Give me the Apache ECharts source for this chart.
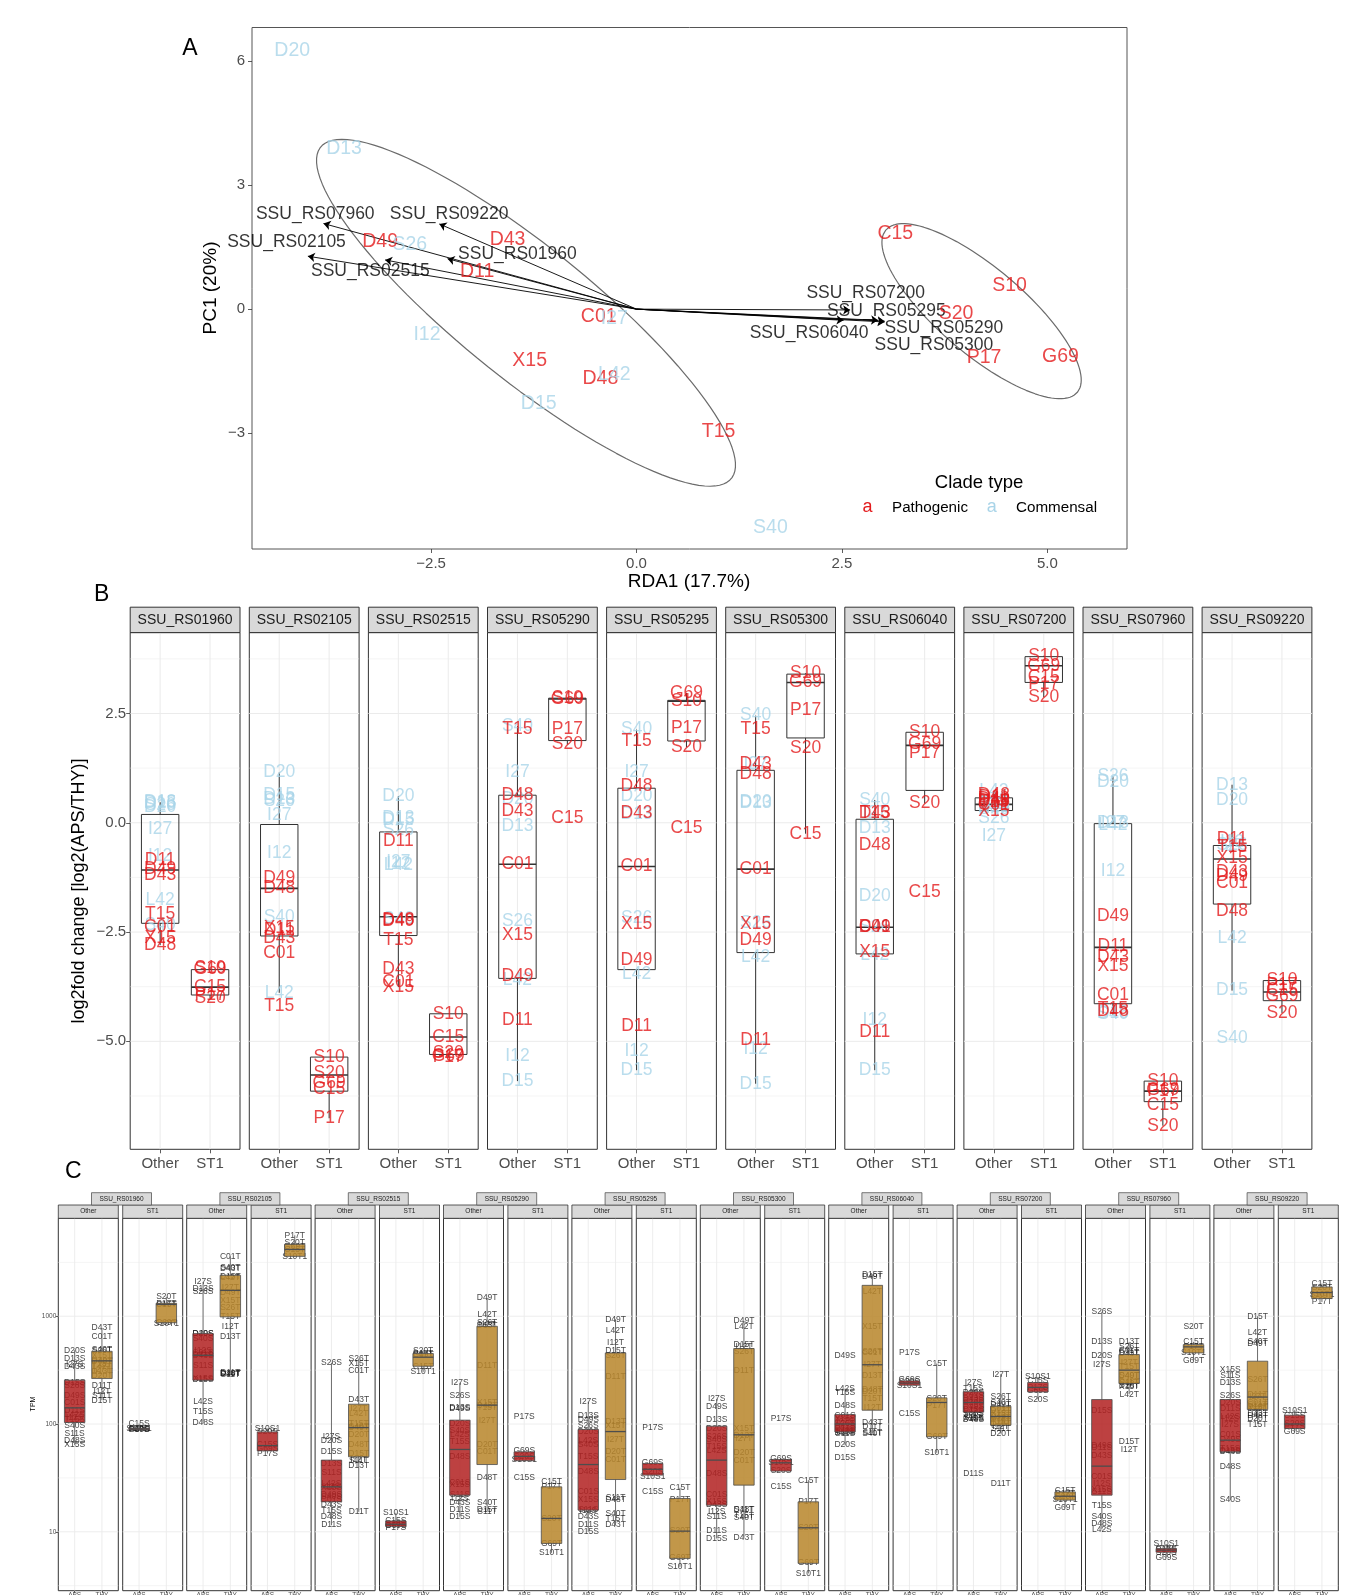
<!DOCTYPE html>
<html>
<head>
<meta charset="utf-8">
<script src="https://cdn.jsdelivr.net/npm/echarts@6/dist/echarts.min.js"></script>
<style>
  html, body { margin: 0; padding: 0; background: #ffffff; }
  #chart { width: 1367px; height: 1595px; }
</style>
</head>
<body>
<div id="chart"></div>
<script>
// ---------------- Panel A: RDA biplot ----------------
const rdaSamples = ['D20','D13','D49','S26','D43','D11','C01','I27','I12','X15','D48','L42','D15','T15','S40','C15','S10','S20','P17','G69'];
const rdaX = [-4.19,-3.56,-3.12,-2.76,-1.57,-1.94,-0.46,-0.27,-2.55,-1.30,-0.44,-0.27,-1.19,1.00,1.63,3.15,4.54,3.89,4.23,5.16];
const rdaY = [6.24,3.87,1.63,1.57,1.68,0.91,-0.19,-0.22,-0.62,-1.24,-1.68,-1.59,-2.29,-2.96,-5.28,1.83,0.57,-0.11,-1.17,-1.15];
const pathogenicSamples = ['D49','D43','D11','C01','X15','D48','T15','C15','S10','S20','P17','G69'];

const loadingGenes = ['SSU_RS07960','SSU_RS09220','SSU_RS02105','SSU_RS01960','SSU_RS02515','SSU_RS07200','SSU_RS05295','SSU_RS05290','SSU_RS05300','SSU_RS06040'];
const loadingX = [-3.81,-2.40,-4.00,-2.30,-3.06,2.60,2.94,3.02,3.02,2.52];
const loadingY = [2.07,2.06,1.28,1.22,1.19,-0.02,-0.27,-0.29,-0.31,-0.27];
const loadingLabelX = [-3.91,-2.28,-4.26,-1.45,-3.24,2.79,3.04,3.74,3.62,2.10];
const loadingLabelY = [2.29,2.29,1.63,1.32,0.91,0.38,-0.04,-0.47,-0.87,-0.59];

// confidence ellipses: centre and the two semi-axis vectors (data units)
const ellipseCx = [-1.345, 4.20];
const ellipseCy = [-0.088, -0.05];
const ellipseUx = [2.404, 1.076];
const ellipseUy = [-4.141, -2.080];
const ellipseVx = [0.850, 0.560];
const ellipseVy = [0.666, 0.392];

const rdaXTicks = [-2.5, 0, 2.5, 5];
const rdaYTicks = [-3, 0, 3, 6];

// ---------------- Panel B: log2 fold change per gene ----------------
const genes = ['SSU_RS01960','SSU_RS02105','SSU_RS02515','SSU_RS05290','SSU_RS05295','SSU_RS05300','SSU_RS06040','SSU_RS07200','SSU_RS07960','SSU_RS09220'];
const groupLabels = ['Other', 'ST1'];
const otherSamples = ['D20','D13','D15','S26','I27','I12','L42','S40','D11','D49','D43','D48','C01','X15','T15'];
const st1Samples = ['S10','G69','C15','P17','S20'];
const lfcTicks = [-5, -2.5, 0, 2.5];
const lfcMinorLines = [-6.25, -3.75, -1.25, 1.25, 3.75];

const lfcOther = [
  [0.36, 0.47, 0.45, 0.40, -0.15, -0.76, -1.76, -2.35, -0.85, -1.07, -1.20, -2.80, -2.40, -2.65, -2.09],
  [1.15, 0.55, 0.62, 0.50, 0.18, -0.70, -3.89, -2.16, -2.45, -1.26, -2.65, -1.50, -2.98, -2.42, -4.19],
  [0.61, 0.10, 0.06, -0.17, -0.90, -0.95, -0.97, -2.20, -0.42, -2.24, -3.36, -2.22, -3.65, -3.76, -2.69],
  [0.55, -0.08, -5.91, -2.25, 1.16, -5.34, -3.61, 2.21, -4.52, -3.50, 0.27, 0.62, -0.95, -2.58, 2.13],
  [0.61, 0.19, -5.66, -2.18, 1.16, -5.22, -3.46, 2.13, -4.65, -3.14, 0.23, 0.84, -1.00, -2.32, 1.87],
  [0.46, 0.44, -5.97, -2.30, 1.33, -5.19, -3.08, 2.45, -4.98, -2.69, 1.33, 1.10, -1.06, -2.32, 2.15],
  [-1.67, -0.13, -5.66, -2.39, 0.22, -4.52, -3.04, 0.52, -4.79, -2.39, 0.21, -0.51, -2.38, -2.96, 0.21],
  [0.43, 0.45, 0.35, 0.10, -0.30, 0.42, 0.72, 0.32, 0.58, 0.55, 0.62, 0.50, 0.40, 0.27, 0.47],
  [0.93, -0.02, -4.35, 1.06, -0.02, -1.11, -0.05, -4.39, -2.83, -2.13, -3.08, -4.30, -3.95, -3.29, -4.27],
  [0.51, 0.87, -3.84, -0.51, -0.53, -0.45, -2.64, -4.92, -0.38, -1.22, -1.14, -2.03, -1.39, -0.80, -0.55]
];
const lfcST1 = [
  [-3.32, -3.36, -3.76, -3.94, -4.02],
  [-5.37, -5.95, -6.10, -6.76, -5.72],
  [-4.39, -5.33, -4.90, -5.36, -5.28],
  [2.85, 2.83, 0.10, 2.15, 1.79],
  [2.79, 2.97, -0.13, 2.17, 1.73],
  [3.42, 3.21, -0.25, 2.58, 1.71],
  [2.07, 1.79, -1.59, 1.60, 0.44],
  [3.82, 3.59, 3.34, 3.17, 2.87],
  [-5.91, -6.12, -6.46, -6.14, -6.93],
  [-3.59, -3.97, -3.84, -3.72, -4.35]
];
// box statistics: lower whisker, Q1, median, Q3, upper whisker
const lfcBoxOther = [
  [-2.80, -2.30, -1.08, 0.19, 0.47],
  [-3.89, -2.59, -1.50, -0.04, 1.15],
  [-3.76, -2.58, -2.15, -0.21, 0.61],
  [-5.91, -3.56, -0.95, 0.63, 2.21],
  [-5.66, -3.36, -1.00, 0.79, 2.13],
  [-5.97, -2.97, -1.06, 1.20, 2.45],
  [-5.66, -3.00, -2.39, 0.08, 0.52],
  [0.25, 0.28, 0.42, 0.57, 0.72],
  [-4.39, -4.14, -2.85, -0.02, 1.06],
  [-3.84, -1.86, -0.83, -0.52, 0.87]
];
const lfcBoxST1 = [
  [-4.02, -3.94, -3.76, -3.36, -3.32],
  [-6.76, -6.14, -5.77, -5.36, -5.36],
  [-5.36, -5.30, -4.90, -4.37, -4.37],
  [1.79, 1.88, 2.83, 2.85, 2.86],
  [1.73, 1.87, 2.78, 2.80, 2.97],
  [-0.25, 1.94, 3.21, 3.40, 3.42],
  [0.44, 0.74, 1.77, 2.07, 2.07],
  [2.87, 3.21, 3.59, 3.80, 3.82],
  [-6.93, -6.38, -6.14, -5.91, -5.91],
  [-4.35, -4.07, -3.87, -3.61, -3.59]
];

// ---------------- Panel C: TPM per gene, condition and clade (log10 TPM) ----------------
const conditionLabels = ['APS', 'THY'];
const tpmOtherSamples = ['D20','D13','D15','S26','I27','I12','L42','S40','S11','D11','D49','D43','D48','C01','X15','T15'];
const tpmSt1NamesS = ['S10S1','G69S','C15S','P17S','S20S'];
const tpmSt1NamesT = ['S10T1','G69T','C15T','P17T','S20T'];
const tpmTicks = [10, 100, 1000];
const tpmGridLog10 = [0.5, 1, 1.5, 2, 2.5, 3, 3.5];

const log10TpmOtherS = [
  [2.685, 2.604, 2.38, 2.36, 2.55, 2.06, 2.09, 1.989, 1.906, 2.122, 2.267, 2.536, 1.844, 2.20, 1.804, 2.045],
  [2.835, 3.26, 2.41, 3.23, 3.318, 2.685, 2.212, 2.79, 2.546, 2.64, 2.84, 2.635, 2.011, 2.66, 2.42, 2.113],
  [1.844, 1.634, 1.748, 2.567, 1.881, 1.42, 1.45, 1.325, 1.547, 1.062, 1.34, 1.25, 1.145, 1.30, 1.41, 1.20],
  [2.005, 2.15, 1.139, 2.267, 2.382, 1.309, 1.90, 1.937, 1.34, 1.201, 2.14, 1.269, 1.696, 1.454, 1.433, 1.835],
  [1.927, 2.082, 1.0, 1.989, 2.206, 1.20, 1.844, 1.804, 1.21, 1.062, 2.042, 1.145, 1.556, 1.371, 1.294, 1.696],
  [1.96, 2.036, 0.938, 1.881, 2.233, 1.185, 1.75, 1.856, 1.139, 1.009, 2.159, 1.25, 1.535, 1.34, 1.278, 1.794],
  [1.804, 1.92, 1.689, 2.0, 2.02, 1.93, 2.329, 1.94, 1.91, 1.96, 2.638, 1.98, 2.175, 2.08, 2.05, 2.289],
  [2.29, 2.22, 2.13, 2.20, 2.382, 2.08, 2.12, 2.10, 2.06, 1.535, 2.16, 2.24, 2.04, 2.26, 2.05, 2.33],
  [2.632, 2.762, 2.122, 3.04, 2.555, 1.442, 1.022, 1.139, 1.37, 1.78, 1.80, 1.711, 1.071, 1.51, 1.39, 1.247],
  [2.199, 2.382, 1.75, 2.267, 1.998, 2.05, 2.07, 1.294, 2.447, 2.138, 1.856, 1.74, 1.603, 1.90, 2.509, 1.77]
];
const log10TpmOtherT = [
  [2.45, 2.484, 2.221, 2.68, 2.50, 2.30, 2.53, 2.69, 2.267, 2.36, 2.59, 2.892, 2.58, 2.815, 2.63, 2.56],
  [2.47, 2.808, 3.37, 3.077, 3.266, 2.901, 3.36, 3.45, 2.46, 2.475, 3.216, 3.44, 2.465, 3.556, 3.148, 3.00],
  [1.90, 1.618, 1.726, 2.607, 2.144, 1.67, 2.097, 1.98, 1.66, 1.185, 1.967, 2.227, 1.813, 2.499, 2.561, 2.005],
  [1.813, 2.91, 1.207, 2.938, 2.029, 2.92, 3.019, 1.272, 1.19, 2.546, 3.17, 2.175, 1.501, 1.748, 2.196, 2.15],
  [1.742, 2.020, 2.685, 2.638, 1.856, 2.753, 2.870, 1.164, 1.32, 2.444, 2.972, 1.062, 1.30, 1.665, 1.989, 1.124],
  [1.736, 1.896, 2.74, 2.675, 1.865, 2.72, 2.901, 1.13, 1.21, 2.499, 2.957, 0.944, 1.207, 1.658, 1.958, 1.15],
  [2.30, 2.45, 3.39, 2.67, 2.55, 2.15, 3.226, 1.912, 1.92, 1.974, 3.37, 2.011, 2.32, 2.66, 2.901, 2.236],
  [1.912, 2.12, 2.0, 2.252, 2.462, 1.98, 2.06, 2.20, 1.958, 1.448, 2.18, 2.08, 2.04, 2.14, 2.10, 2.02],
  [2.36, 2.762, 1.835, 2.716, 2.567, 1.764, 2.277, 2.453, 2.385, 2.66, 2.45, 2.65, 2.39, 2.685, 2.35, 2.53],
  [2.05, 2.16, 3.0, 2.416, 2.25, 2.14, 2.845, 2.76, 2.18, 2.277, 2.75, 2.10, 2.082, 2.20, 2.15, 1.998]
];
const log10TpmSt1S = [
  [1.96, 1.95, 2.005, 1.945, 1.955],
  [1.958, 1.773, 1.804, 1.726, 1.927],
  [1.176, 1.06, 1.10, 1.04, 1.08],
  [1.67, 1.757, 1.501, 2.073, 1.70],
  [1.516, 1.64, 1.371, 1.964, 1.56],
  [1.64, 1.68, 1.417, 2.051, 1.563],
  [2.36, 2.41, 2.097, 2.66, 2.39],
  [2.437, 2.31, 2.40, 2.34, 2.23],
  [0.886, 0.762, 0.845, 0.83, 0.81],
  [2.128, 1.927, 2.082, 1.98, 2.0]
];
const log10TpmSt1T = [
  [2.93, 2.94, 3.11, 3.12, 3.18],
  [3.55, 3.649, 3.62, 3.751, 3.68],
  [2.484, 2.645, 2.536, 2.65, 2.685],
  [0.805, 0.892, 1.464, 1.417, 1.124],
  [0.675, 0.759, 1.408, 1.300, 1.006],
  [0.614, 0.713, 1.479, 1.278, 1.037],
  [1.733, 1.887, 2.561, 2.175, 2.236],
  [1.30, 1.226, 1.386, 1.355, 1.33],
  [2.66, 2.592, 2.762, 2.716, 2.901],
  [3.204, 3.19, 3.303, 3.133, 3.266]
];
const tpmBoxOtherS = [
  [1.804, 2.014, 2.15, 2.407, 2.685],
  [2.011, 2.407, 2.638, 2.839, 3.318],
  [1.062, 1.278, 1.417, 1.665, 2.567],
  [1.139, 1.34, 1.764, 2.036, 2.382],
  [1.0, 1.201, 1.624, 1.949, 2.206],
  [0.938, 1.247, 1.665, 1.98, 2.233],
  [1.804, 1.927, 2.0, 2.088, 2.329],
  [2.04, 2.11, 2.2, 2.30, 2.382],
  [1.022, 1.34, 1.609, 2.227, 3.04],
  [1.294, 1.742, 1.85, 2.227, 2.509]
];
const tpmBoxOtherT = [
  [2.221, 2.422, 2.586, 2.675, 2.892],
  [2.465, 2.994, 3.24, 3.38, 3.556],
  [1.185, 1.696, 1.967, 2.184, 2.607],
  [1.19, 1.624, 2.175, 2.907, 3.17],
  [1.062, 1.485, 1.93, 2.66, 2.972],
  [0.944, 1.433, 1.90, 2.70, 2.957],
  [1.912, 2.128, 2.55, 3.287, 3.39],
  [1.912, 1.989, 2.07, 2.165, 2.462],
  [2.277, 2.376, 2.5, 2.645, 2.762],
  [1.998, 2.134, 2.25, 2.583, 3.0]
];
const tpmBoxSt1S = [
  [1.945, 1.95, 1.955, 1.96, 2.005],
  [1.726, 1.751, 1.80, 1.927, 1.958],
  [1.04, 1.05, 1.07, 1.10, 1.176],
  [1.649, 1.66, 1.70, 1.742, 1.757],
  [1.516, 1.526, 1.58, 1.634, 1.64],
  [1.563, 1.563, 1.64, 1.671, 1.68],
  [2.36, 2.36, 2.38, 2.40, 2.41],
  [2.23, 2.298, 2.34, 2.385, 2.437],
  [0.762, 0.81, 0.83, 0.845, 0.886],
  [1.927, 1.958, 2.0, 2.082, 2.128]
];
const tpmBoxSt1T = [
  [2.93, 2.94, 3.11, 3.12, 3.18],
  [3.55, 3.556, 3.62, 3.668, 3.751],
  [2.484, 2.536, 2.62, 2.654, 2.685],
  [0.805, 0.892, 1.124, 1.417, 1.464],
  [0.675, 0.753, 1.006, 1.309, 1.408],
  [0.614, 0.707, 1.037, 1.278, 1.479],
  [1.733, 1.881, 2.2, 2.243, 2.561],
  [1.226, 1.294, 1.33, 1.37, 1.386],
  [2.592, 2.66, 2.716, 2.737, 2.762],
  [3.133, 3.164, 3.22, 3.272, 3.303]
];

// ---------------- styling helpers ----------------
const FONT = 'Liberation Sans, Arial, Helvetica, sans-serif';
const RED = '#E31A1C';
const BLUE = '#A9D4E8';
const GRID_COLOR = '#EBEBEB';
const cladeColor = s => pathogenicSamples.indexOf(s) >= 0 ? RED : BLUE;
const minusFmt = s => s.replace('-', '\u2212');

const grids = [], xAxes = [], yAxes = [], series = [], graphics = [];

function addGrid(left, top, width, height, xAxis, yAxis, border) {
  const idx = grids.length;
  grids.push({ left, top, width, height, show: true, borderColor: border || '#333333', borderWidth: 1,
    backgroundColor: 'rgba(0,0,0,0)', containLabel: false, outerBoundsMode: 'none' });
  xAxes.push(Object.assign({ gridIndex: idx, position: 'bottom' }, xAxis));
  yAxes.push(Object.assign({ gridIndex: idx, position: 'left' }, yAxis));
  return idx;
}

function axisCfg(type, min, max, ticks, fmt, show, fontSize, tickLen, margin) {
  const a = {
    type, min, max, silent: true,
    axisLine: { show: false, onZero: false },
    splitLine: { show: false },
    axisTick: { show: show, length: tickLen, lineStyle: { color: '#333333', width: 0.8 }, customValues: ticks },
    axisLabel: { show: show, customValues: ticks, formatter: fmt, color: '#4D4D4D', fontSize, fontFamily: FONT, margin }
  };
  if (type === 'log') a.logBase = 10;
  return a;
}

// background grid lines: item = [orientation (0 horizontal, 1 vertical), value, width, reference on the other axis]
function gridLineRenderer(params, api) {
  const cs = params.coordSys;
  const kind = api.value(0), v = api.value(1), w = api.value(2), ref = api.value(3);
  if (kind === 0) {
    const y = api.coord([ref, v])[1];
    return { type: 'line', shape: { x1: cs.x, y1: y, x2: cs.x + cs.width, y2: y }, style: { stroke: GRID_COLOR, lineWidth: w } };
  }
  const x = api.coord([v, ref])[0];
  return { type: 'line', shape: { x1: x, y1: cs.y, x2: x, y2: cs.y + cs.height }, style: { stroke: GRID_COLOR, lineWidth: w } };
}

// box plot drawn from [x, lower whisker, Q1, median, Q3, upper whisker]
function boxRenderer(fill, stroke, lw, medW, halfWidth) {
  return function (params, api) {
    const x = api.value(0);
    const v = [1, 2, 3, 4, 5].map(k => api.value(k));
    const p = k => api.coord([x, v[k]]);
    const tl = api.coord([x - halfWidth, v[3]]);
    const br = api.coord([x + halfWidth, v[1]]);
    const med = p(2);
    return { type: 'group', children: [
      { type: 'line', shape: { x1: p(4)[0], y1: p(4)[1], x2: p(3)[0], y2: p(3)[1] }, style: { stroke, lineWidth: lw } },
      { type: 'line', shape: { x1: p(0)[0], y1: p(0)[1], x2: p(1)[0], y2: p(1)[1] }, style: { stroke, lineWidth: lw } },
      { type: 'rect', shape: { x: tl[0], y: tl[1], width: br[0] - tl[0], height: br[1] - tl[1] }, style: { fill, stroke, lineWidth: lw } },
      { type: 'line', shape: { x1: tl[0], y1: med[1], x2: br[0], y2: med[1] }, style: { stroke, lineWidth: medW } }
    ] };
  };
}

function textLayer(gi, data, fontSize, z) {
  return { type: 'scatter', xAxisIndex: gi, yAxisIndex: gi, symbolSize: 0.01, silent: true, z,
    itemStyle: { color: 'rgba(0,0,0,0)' },
    label: { show: true, position: 'inside', formatter: p => p.name, fontSize, fontFamily: FONT },
    emphasis: { disabled: true }, data };
}

function addText(x, y, text, size, color, align, rotation, weight) {
  graphics.push({ type: 'text', x, y, rotation: rotation || 0, silent: true, z: 100,
    style: { text, fill: color || '#000', fontSize: size, fontFamily: FONT, fontWeight: weight || 'normal',
      align: align || 'center', verticalAlign: 'middle', textAlign: align || 'center', textVerticalAlign: 'middle' } });
}
function addRect(x, y, w, h, fill, stroke, lw) {
  graphics.push({ type: 'rect', silent: true, z: 90, shape: { x, y, width: w, height: h },
    style: { fill, stroke, lineWidth: lw } });
}

// ================= Panel A =================
const A = { left: 252, top: 27.5, width: 875, height: 521.5 };
const aIdx = addGrid(A.left, A.top, A.width, A.height,
  axisCfg('value', -4.68, 5.97, rdaXTicks, v => minusFmt(Number(v).toFixed(1)), true, 15, 4, 7),
  axisCfg('value', -5.80, 6.81, rdaYTicks, v => minusFmt(String(Math.round(v))), true, 15, 4, 7),
  '#555555');

ellipseCx.forEach((cx, e) => {
  const pts = [];
  for (let k = 0; k <= 120; k++) {
    const t = 2 * Math.PI * k / 120;
    pts.push([cx + ellipseUx[e] * Math.cos(t) + ellipseVx[e] * Math.sin(t),
              ellipseCy[e] + ellipseUy[e] * Math.cos(t) + ellipseVy[e] * Math.sin(t)]);
  }
  series.push({ type: 'line', xAxisIndex: aIdx, yAxisIndex: aIdx, data: pts, showSymbol: false, symbol: 'none',
    silent: true, z: 1, lineStyle: { color: '#6B6B6B', width: 1.2 } });
});

series.push({ type: 'lines', coordinateSystem: 'cartesian2d', xAxisIndex: aIdx, yAxisIndex: aIdx, z: 2, silent: true,
  symbol: ['none', 'arrow'], symbolSize: 7, lineStyle: { color: '#000000', width: 0.9, opacity: 1 },
  data: loadingGenes.map((g, i) => ({ coords: [[0, 0], [loadingX[i], loadingY[i]]] })) });

series.push(textLayer(aIdx, loadingGenes.map((g, i) => ({ name: g, value: [loadingLabelX[i], loadingLabelY[i]],
  label: { color: '#000000', fontSize: 17.5 } })), 17.5, 3));
series.push(textLayer(aIdx, rdaSamples.map((s, i) => ({ name: s, value: [rdaX[i], rdaY[i]],
  label: { color: cladeColor(s) } })), 19.5, 4));

addText(190, 48.8, 'A', 23, '#000');
addText(689, 581.5, 'RDA1 (17.7%)', 19, '#000');
addText(210.5, 288, 'PC1 (20%)', 19, '#000', 'center', Math.PI / 2);
addText(979, 483, 'Clade type', 18.5, '#000');
addText(867.6, 507.5, 'a', 18, RED);
addText(892, 507.5, 'Pathogenic', 15.2, '#000', 'left');
addText(991.7, 507.5, 'a', 18, BLUE);
addText(1016, 507.5, 'Commensal', 15.2, '#000', 'left');

// ================= Panel B =================
const B = { left0: 130.2, step: 119.1, width: 109.8, top: 632.6, height: 516.7, stripTop: 607.2 };
const lfcFmt = v => minusFmt((Math.round(v * 10) / 10).toFixed(1));
genes.forEach((gene, i) => {
  const left = B.left0 + i * B.step;
  const xa = axisCfg('value', 0.4, 2.6, [1, 2], v => groupLabels[Math.round(v) - 1], true, 15, 4, 7);
  const ya = axisCfg('value', -7.47, 4.35, lfcTicks, lfcFmt, i === 0, 15, 4, 4);
  const gi = addGrid(left, B.top, B.width, B.height, xa, ya, '#333333');

  const lines = [];
  lfcTicks.forEach(v => lines.push([0, v, 1.0, 1.5]));
  lfcMinorLines.forEach(v => lines.push([0, v, 0.5, 1.5]));
  [1, 2].forEach(v => lines.push([1, v, 1.0, 0]));
  series.push({ type: 'custom', xAxisIndex: gi, yAxisIndex: gi, renderItem: gridLineRenderer, data: lines,
    silent: true, z: 0, clip: false });

  series.push({ type: 'custom', xAxisIndex: gi, yAxisIndex: gi, silent: true, z: 1, clip: false,
    renderItem: boxRenderer('none', '#333333', 1, 1.6, 0.375),
    data: [[1].concat(lfcBoxOther[i]), [2].concat(lfcBoxST1[i])] });

  const pts = otherSamples.map((s, k) => ({ name: s, value: [1, lfcOther[i][k]], label: { color: cladeColor(s) } }))
    .concat(st1Samples.map((s, k) => ({ name: s, value: [2, lfcST1[i][k]], label: { color: cladeColor(s) } })));
  series.push(textLayer(gi, pts, 17.5, 2));

  addRect(left, B.stripTop, B.width, B.top - B.stripTop, '#D9D9D9', '#333333', 1);
  addText(left + B.width / 2, (B.stripTop + B.top) / 2 + 0.5, gene, 14, '#1A1A1A');
});
addText(101.7, 595, 'B', 23, '#000');
addText(79.3, 891, 'log2fold change [log2(APS/THY)]', 18, '#000', 'center', Math.PI / 2);

// ================= Panel C =================
const C = { left0: 58.3, step: 128.4, width: 60, subGap: 64.4, top: 1218.3, height: 372.4,
  geneStripTop: 1192.7, subStripTop: 1205 };
const S_FILL = 'rgba(178,34,34,0.86)';
const T_FILL = 'rgba(184,134,43,0.86)';
const tpm = v => Math.pow(10, v);
genes.forEach((gene, i) => {
  [0, 1].forEach(k => {
    const left = C.left0 + i * C.step + k * C.subGap;
    const xa = axisCfg('value', 0.4, 2.6, [1, 2], v => conditionLabels[Math.round(v) - 1], true, 6.5, 2.5, 1.5);
    const ya = axisCfg('log', 2.84, 8110, tpmTicks, v => String(Math.round(v)), i === 0 && k === 0, 6.5, 2.5, 2);
    const gi = addGrid(left, C.top, C.width, C.height, xa, ya, '#333333');

    const lines = [];
    tpmGridLog10.forEach((lv, j) => lines.push([0, tpm(lv), j % 2 === 1 ? 0.9 : 0.5, 1.5]));
    [1, 2].forEach(v => lines.push([1, v, 0.9, 100]));
    series.push({ type: 'custom', xAxisIndex: gi, yAxisIndex: gi, renderItem: gridLineRenderer, data: lines,
      silent: true, z: 0, clip: false });

    const namesS = k === 0 ? tpmOtherSamples.map(s => s + 'S') : tpmSt1NamesS;
    const namesT = k === 0 ? tpmOtherSamples.map(s => s + 'T') : tpmSt1NamesT;
    const valsS = k === 0 ? log10TpmOtherS[i] : log10TpmSt1S[i];
    const valsT = k === 0 ? log10TpmOtherT[i] : log10TpmSt1T[i];
    const pts = namesS.map((n, j) => ({ name: n, value: [1, tpm(valsS[j])] }))
      .concat(namesT.map((n, j) => ({ name: n, value: [2, tpm(valsT[j])] })));
    const lbl = textLayer(gi, pts, 8.5, 1);
    lbl.label.color = '#111111';
    series.push(lbl);

    const boxS = (k === 0 ? tpmBoxOtherS : tpmBoxSt1S)[i].map(tpm);
    const boxT = (k === 0 ? tpmBoxOtherT : tpmBoxSt1T)[i].map(tpm);
    series.push({ type: 'custom', xAxisIndex: gi, yAxisIndex: gi, silent: true, z: 2, clip: false,
      renderItem: boxRenderer(S_FILL, '#4D4D4D', 0.8, 1.3, 0.375), data: [[1].concat(boxS)] });
    series.push({ type: 'custom', xAxisIndex: gi, yAxisIndex: gi, silent: true, z: 2, clip: false,
      renderItem: boxRenderer(T_FILL, '#4D4D4D', 0.8, 1.3, 0.375), data: [[2].concat(boxT)] });

    addRect(left, C.subStripTop, C.width, C.top - C.subStripTop, '#D9D9D9', '#333333', 0.8);
    addText(left + C.width / 2, (C.subStripTop + C.top) / 2, groupLabels[k], 6.5, '#1A1A1A');
  });
  const cx = C.left0 + i * C.step + (C.subGap + C.width) / 2 + 1;
  addRect(cx - 30, C.geneStripTop, 60, C.subStripTop - C.geneStripTop, '#D9D9D9', '#555555', 0.8);
  addText(cx, (C.geneStripTop + C.subStripTop) / 2, gene, 6.5, '#1A1A1A');
});
addText(73.2, 1171.7, 'C', 23, '#000');
addText(32.7, 1404, 'TPM', 7, '#000', 'center', Math.PI / 2);

// ================= render =================
const chart = echarts.init(document.getElementById('chart'), null, { renderer: 'canvas', width: 1367, height: 1595 });
chart.setOption({
  animation: false,
  backgroundColor: '#ffffff',
  textStyle: { fontFamily: FONT },
  grid: grids,
  xAxis: xAxes,
  yAxis: yAxes,
  series: series,
  graphic: { elements: graphics }
});
</script>
</body>
</html>
